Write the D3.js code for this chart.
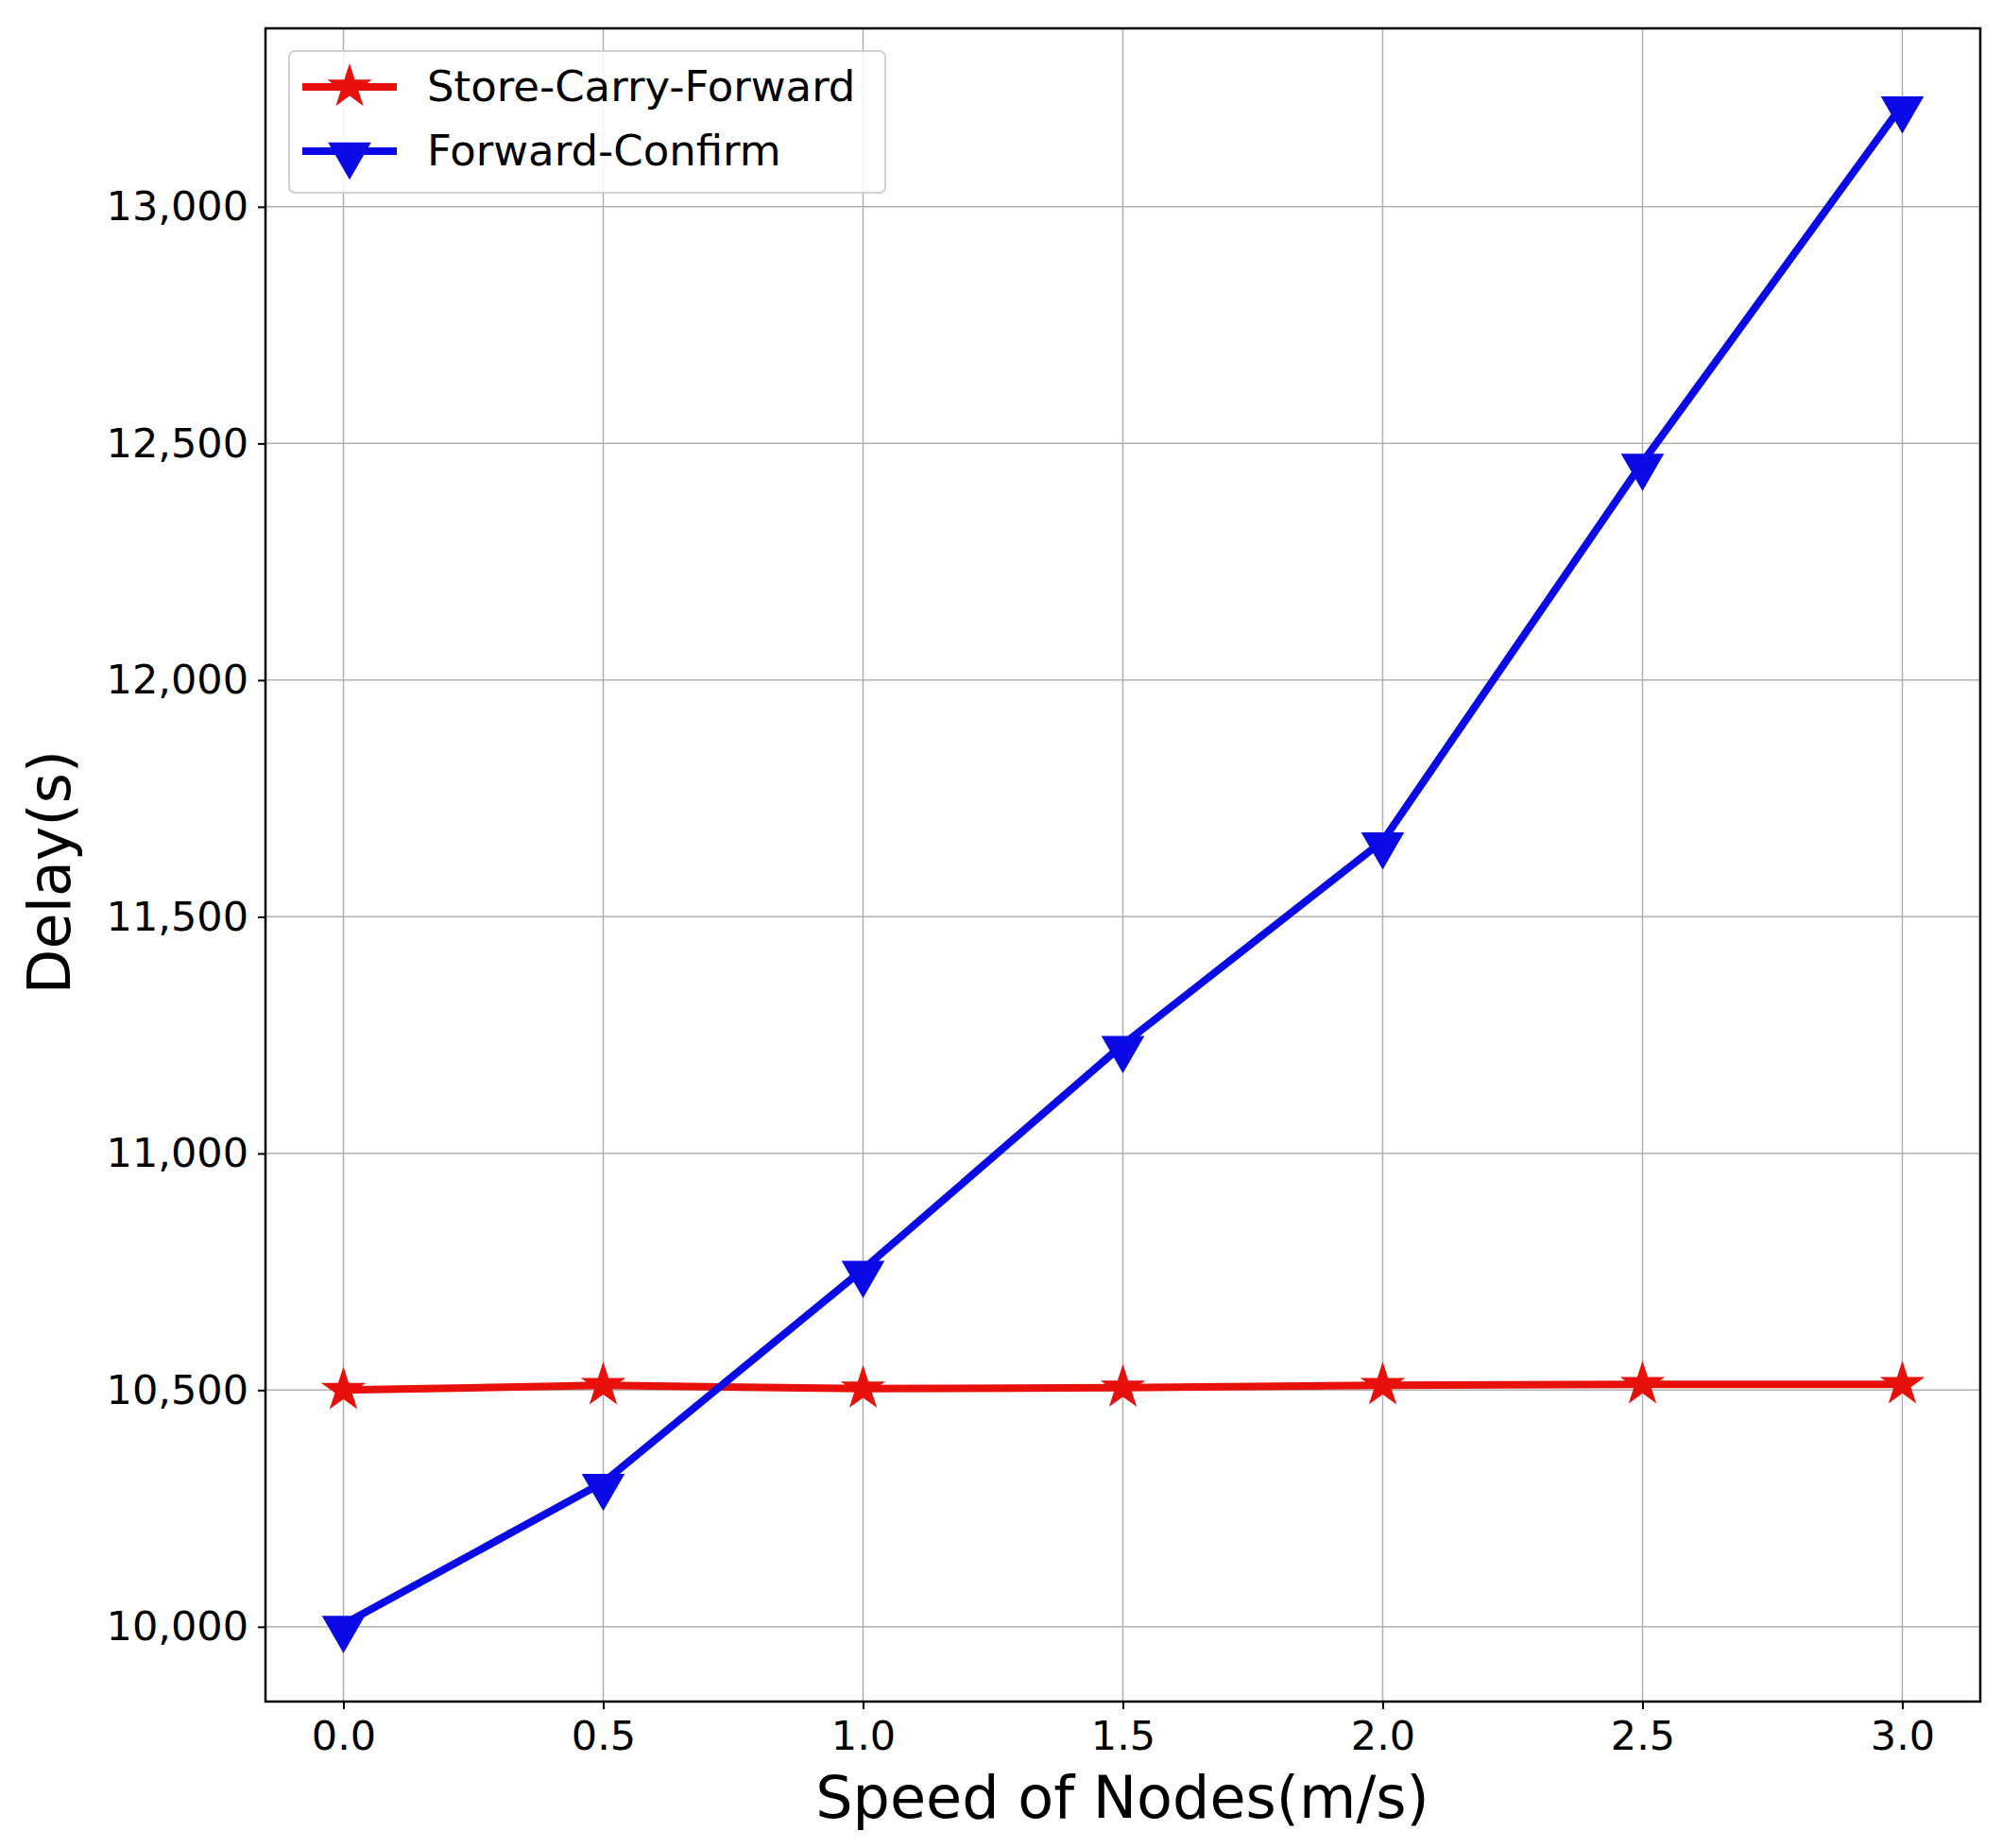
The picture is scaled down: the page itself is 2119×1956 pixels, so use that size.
<!DOCTYPE html>
<html><head><meta charset="utf-8">
<script src="https://cdn.jsdelivr.net/npm/d3@7"></script>
<style>body{margin:0;background:#fff}</style></head>
<body><svg id="c" width="2119" height="1956"></svg>
<script>
const speeds=[0,0.5,1,1.5,2,2.5,3];
const scf=[10500,10510,10503,10505,10510,10512,10512];
const fc=[10005,10305,10755,11230,11660,12460,13215];
const xTicks=[0,0.5,1,1.5,2,2.5,3];
const yTicks=[10000,10500,11000,11500,12000,12500,13000];
const svg=d3.select("#c");
const L=281,R=2096,T=30,B=1801;
const x=d3.scaleLinear().domain([-0.15,3.15]).range([L,R]);
const y=d3.scaleLinear().domain([9842,13377]).range([B,T]);
const font="DejaVu Sans";
const g=svg.append("g");
g.selectAll(".gx").data(xTicks).enter().append("line").attr("x1",d=>x(d)).attr("x2",d=>x(d)).attr("y1",T).attr("y2",B).attr("stroke","#b0b0b0").attr("stroke-width",1.5);
g.selectAll(".gy").data(yTicks).enter().append("line").attr("y1",d=>y(d)).attr("y2",d=>y(d)).attr("x1",L).attr("x2",R).attr("stroke","#b0b0b0").attr("stroke-width",1.5);
const xa=svg.append("g").attr("transform",`translate(0,${B})`).call(d3.axisBottom(x).tickValues(xTicks).tickFormat(d3.format(".1f")).tickSize(8).tickPadding(12));
const ya=svg.append("g").attr("transform",`translate(${L},0)`).call(d3.axisLeft(y).tickValues(yTicks).tickFormat(d3.format(",")).tickSize(8).tickPadding(10));
[xa,ya].forEach(a=>{a.select(".domain").remove();a.selectAll("text").attr("font-family",font).attr("font-size",43).attr("fill","#000");a.selectAll("line").attr("stroke","#000").attr("stroke-width",2);});
svg.append("rect").attr("x",L).attr("y",T).attr("width",R-L).attr("height",B-T).attr("fill","none").attr("stroke","#000").attr("stroke-width",2.5);
const line=d3.line().x((d,i)=>x(speeds[i])).y(d=>y(d));
const star=d3.symbol().type(d3.symbolStar).size(700);
const tri=d3.symbol().type(d3.symbolTriangle).size(900);
function series(data,color,sym,rot){
  svg.append("path").datum(data).attr("d",line).attr("fill","none").attr("stroke",color).attr("stroke-width",8).attr("stroke-linejoin","round");
  svg.selectAll(null).data(data).enter().append("path").attr("d",sym).attr("fill",color)
    .attr("transform",(d,i)=>`translate(${x(speeds[i])},${y(d)+(rot?4:0)}) rotate(${rot})`);
}
series(scf,"#e8100b",star,0);
series(fc,"#0a0ae6",tri,180);
const lg=svg.append("g");
lg.append("rect").attr("x",306).attr("y",54).attr("width",631).attr("height",150).attr("rx",6).attr("fill","#fff").attr("fill-opacity",0.85).attr("stroke","#d0d0d0").attr("stroke-width",2);
[["Store-Carry-Forward","#e8100b",star,0,92],["Forward-Confirm","#0a0ae6",tri,180,160]].forEach(([t,c,s,r,yy])=>{
  lg.append("line").attr("x1",320).attr("x2",420).attr("y1",yy).attr("y2",yy).attr("stroke",c).attr("stroke-width",8);
  lg.append("path").attr("d",s).attr("fill",c).attr("transform",`translate(370,${yy+(r?4:0)}) rotate(${r})`);
  lg.append("text").attr("x",452).attr("y",yy+15).attr("font-family",font).attr("font-size",45).text(t);
});
svg.append("text").attr("x",1188).attr("y",1924).attr("text-anchor","middle").attr("font-family",font).attr("font-size",62).text("Speed of Nodes(m/s)");
svg.append("text").attr("transform","translate(74,923) rotate(-90)").attr("text-anchor","middle").attr("font-family",font).attr("font-size",62).text("Delay(s)");
</script></body></html>
